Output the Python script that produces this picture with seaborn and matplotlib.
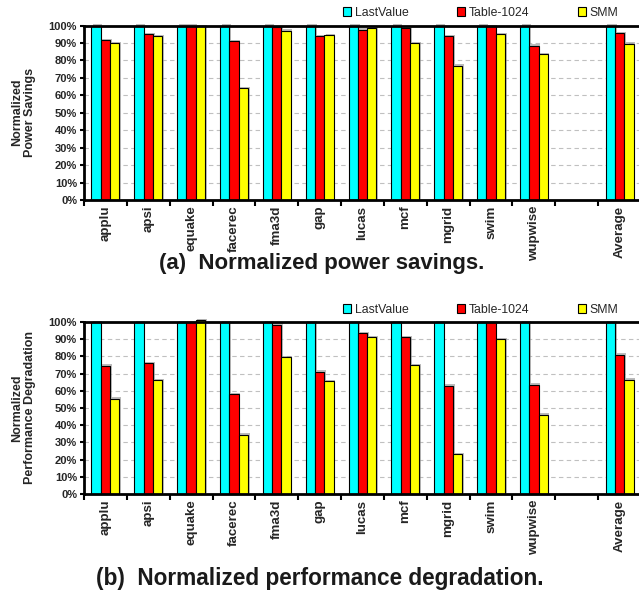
import numpy as np
import pandas as pd
import matplotlib
matplotlib.use('Agg')
import matplotlib.pyplot as plt
import matplotlib.patheffects as pe
from matplotlib.ticker import FixedLocator
import seaborn as sns

# ── DATA ──────────────────────────────────────────────────────────────────────
benchmarks = ['applu', 'apsi', 'equake', 'facerec', 'fma3d', 'gap', 'lucas',
              'mcf', 'mgrid', 'swim', 'wupwise', '', 'Average']
series = ['LastValue', 'Table-1024', 'SMM']

power_last  = [100, 100, 100, 100, 100, 100, 100, 100, 100, 100, 100, np.nan, 100]
power_table = [91.5, 95, 100, 91, 99, 94, 97.5, 98.5, 94, 99.5, 88.5, np.nan, 95.5]
power_smm   = [90, 94, 99.5, 64, 97, 94.5, 98.5, 90, 77, 95, 83.5, np.nan, 89.5]

perf_last  = [100, 100, 100, 100, 100, 100, 100, 100, 100, 100, 100, np.nan, 100]
perf_table = [74.5, 76, 100, 58, 98.5, 71, 93.5, 91, 63, 100, 63.5, np.nan, 81]
perf_smm   = [55.5, 66, 101, 34.5, 79.5, 65.5, 91, 75, 23, 90, 46, np.nan, 66.5]

colors = ['#00FFFF', '#FF0000', '#FFFF00']

# ── STYLE ─────────────────────────────────────────────────────────────────────
sns.set_theme(style='white')
plt.rcParams['font.family'] = ['Liberation Sans', 'DejaVu Sans']
plt.rcParams['font.weight'] = 'bold'

W, H = 639, 596
fig = plt.figure(figsize=(W / 100, H / 100), dpi=100)
fig.patch.set_facecolor('white')


def to_long(last, table, smm):
    rows = []
    for vals, s in zip([last, table, smm], series):
        for b, v in zip(benchmarks, vals):
            rows.append({'bench': b, 'series': s, 'value': v})
    return pd.DataFrame(rows)


def draw_panel(ax, df, ylabel):
    sns.barplot(data=df, x='bench', y='value', hue='series', order=benchmarks,
                hue_order=series, palette=colors, width=0.65, ax=ax,
                edgecolor='black', linewidth=0.8, errorbar=None, saturation=1)
    for p in ax.patches:
        p.set_clip_on(False)
        p.set_path_effects([pe.SimplePatchShadow(offset=(1.2, 1.0),
                                                 shadow_rgbFace='#909090',
                                                 alpha=0.6),
                            pe.Normal()])
    ax.set_xlim(-0.5, len(benchmarks) - 0.5)
    ax.set_ylim(0, 100)
    ax.set_yticks(np.arange(0, 101, 10))
    ax.set_yticklabels([f'{v}%' for v in range(0, 101, 10)], fontsize=8,
                       fontweight='bold')
    ax.yaxis.grid(True, linestyle=(0, (4, 3)), color='#c0c0c0', linewidth=0.8)
    ax.set_axisbelow(True)

    ax.set_xticks(range(len(benchmarks)))
    ax.set_xticklabels(benchmarks, rotation=90, fontsize=9.6, fontweight='bold')
    ax.tick_params(axis='x', which='major', length=0, pad=4)
    ax.xaxis.set_minor_locator(FixedLocator(np.arange(-0.5, len(benchmarks), 1)))
    ax.tick_params(axis='x', which='minor', bottom=True, length=4, width=1.5,
                   direction='out', color='black')
    ax.tick_params(axis='y', left=True, length=3, width=1.5, direction='out',
                   color='black', pad=2)
    ax.set_xlabel('')
    ax.set_ylabel(ylabel, fontsize=9, fontweight='bold', linespacing=1.1)
    ax.yaxis.set_label_coords(-0.086, 0.5)

    for side in ['left', 'bottom', 'top']:
        ax.spines[side].set_visible(True)
        ax.spines[side].set_color('black')
        ax.spines[side].set_linewidth(2)
    ax.spines['right'].set_visible(False)

    ax.legend(ncol=3, loc='center left', bbox_to_anchor=(0.465, 1.072),
              frameon=False, handlelength=0.65, handleheight=0.75,
              handletextpad=0.3, columnspacing=4.0, borderaxespad=0,
              borderpad=0, prop={'weight': 'normal', 'size': 8.8})
    for h in ax.get_legend().legend_handles:
        h.set_edgecolor('black')
        h.set_linewidth(0.8)
        h.set_path_effects([])


left = 84 / W
width = (641 - 84) / W

ax1 = fig.add_axes([left, 1 - 200 / H, width, (200 - 25.5) / H])
draw_panel(ax1, to_long(power_last, power_table, power_smm),
           'Normalized\nPower Savings')

ax2 = fig.add_axes([left, 1 - 494 / H, width, (494 - 322) / H])
draw_panel(ax2, to_long(perf_last, perf_table, perf_smm),
           'Normalized\nPerformance Degradation')

fig.text(322 / W, 1 - 264 / H, '(a)  Normalized power savings.',
         ha='center', va='center', fontsize=16, fontweight='bold',
         color='#1a1a1a')
fig.text(320 / W, 1 - 578 / H, '(b)  Normalized performance degradation.',
         ha='center', va='center', fontsize=16.3, fontweight='bold',
         color='#1a1a1a')

plt.savefig('out.png', dpi=100, facecolor=fig.get_facecolor())
